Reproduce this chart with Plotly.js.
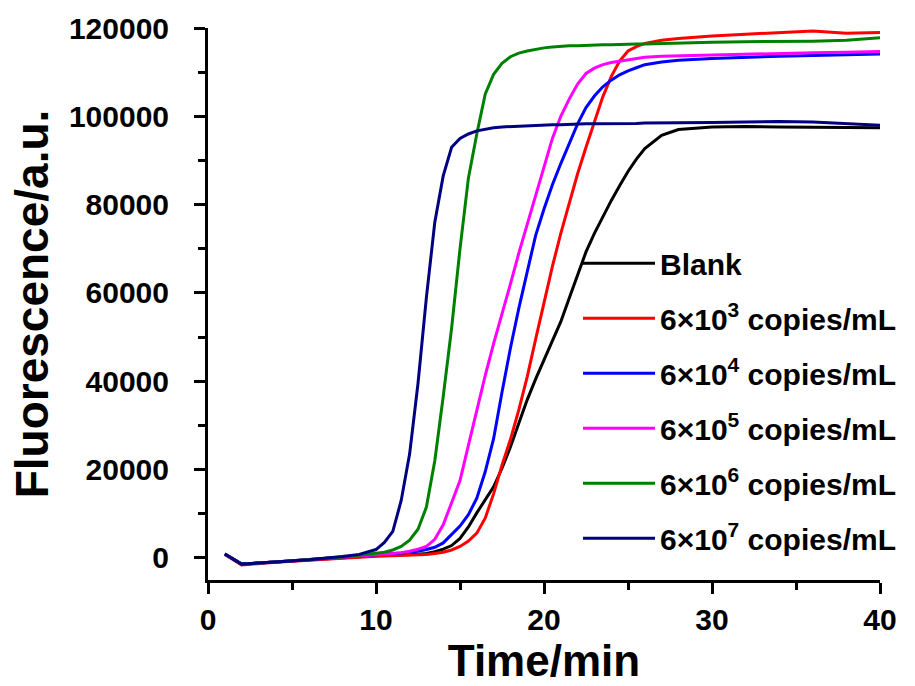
<!DOCTYPE html>
<html>
<head>
<meta charset="utf-8">
<script src="https://cdn.plot.ly/plotly-3.0.1.min.js"></script>
<style>html,body{margin:0;padding:0;background:#fff;}#chart{width:915px;height:686px;}</style>
</head>
<body>
<div id="chart"></div>
<script>
const time = [1,2,4,6,8,9,10,10.5,11,11.5,12,12.5,13,13.5,14,14.5,15,15.5,16,16.5,17,17.5,18,18.5,19,19.5,20,20.5,21,21.5,22,22.5,23,23.5,24,24.5,25,25.5,26,27,28,30,32,34,36,38,40];

const blank = [900,-1400,-900,-400,100,400,
 500,550,600,650,700,850,1000,1400,2000,2800,4400,7000,10200,13000,16100,20300,25100,30500,35800,40500,44800,49000,53500,58800,64300,69300,73500,77300,80900,84300,87500,90300,92700,
 95700,97000,97600,97700,97600,97500,97500,97400];

const c6e3 = [800,-1600,-1000,-500,0,300,
 400,450,500,550,600,700,800,1000,1300,1800,2600,3800,5600,9000,14500,21000,26800,33500,41000,49500,58000,66000,73500,80500,87000,93000,98800,104400,109000,112500,114800,115800,116500,
 117200,117600,118200,118600,119000,119300,118800,119000];

const c6e4 = [900,-1400,-900,-400,200,500,
 700,800,950,1100,1300,1500,1900,2400,3400,5200,7200,9800,13500,19500,27000,37500,47500,56500,65000,73000,79000,84500,89300,94000,98300,102000,104600,106700,108200,109400,110300,111000,111700,
 112300,112700,113100,113400,113600,113800,114000,114100];

const c6e5 = [900,-1400,-900,-400,200,500,
 700,850,1000,1200,1500,2000,2600,4200,7500,12500,17500,25500,33500,41300,48500,55000,62000,69000,75500,82000,89000,95000,100000,103900,107300,109700,110900,111700,112200,112500,112800,113100,113400,
 113600,113700,113900,114100,114300,114400,114500,114700];

const c6e6 = [900,-1400,-900,-400,200,600,
 1000,1300,1800,2600,4000,6500,11500,22000,36500,52000,70000,86000,96000,105000,109500,112000,113500,114300,114800,115200,115500,115700,115900,116000,116000,116100,116100,116200,116200,116300,116300,116400,116400,
 116500,116700,116800,116900,116900,117000,117200,117800];

const c6e7 = [900,-1400,-900,-400,300,800,
 1900,3500,6000,13000,23500,39500,59000,76000,86500,93000,95000,96000,96700,97100,97400,97600,97700,97800,97900,98000,98000,98100,98100,98200,98200,98300,98300,98300,98400,98400,98400,98400,98500,
 98500,98500,98600,98700,98800,98700,98300,98000];

const seriesNames = ["Blank","6×10<sup>3</sup> copies/mL","6×10<sup>4</sup> copies/mL","6×10<sup>5</sup> copies/mL","6×10<sup>6</sup> copies/mL","6×10<sup>7</sup> copies/mL"];
const seriesValues = [blank, c6e3, c6e4, c6e5, c6e6, c6e7];
const seriesColors = ["#000000","#FF0000","#0000FF","#FF00FF","#008000","#000080"];

const xTickVals = [0,10,20,30,40];
const xMinorVals = [5,15,25,35];
const yTickVals = [0,20000,40000,60000,80000,100000,120000];
const yTickText = ['0','20000','40000','60000','80000','100000','120000'];
const yMinorVals = [10000,30000,50000,70000,90000,110000];

const FONT = 'Arial, "Liberation Sans", sans-serif';

const traces = seriesValues.map((v, i) => ({
  type: 'scatter', mode: 'lines', x: time, y: v, name: seriesNames[i],
  legendgroup: 'g' + i,
  line: {color: seriesColors[i], width: 3},
  hoverinfo: 'skip'
}));

const axisCommon = {
  showline: true, linecolor: '#000', linewidth: 3, mirror: false,
  showgrid: false, zeroline: false,
  ticks: 'outside', ticklen: 11, tickwidth: 3, tickcolor: '#000',
  tickfont: {family: FONT, size: 30, color: '#000', weight: 700},
};

const layout = {
  width: 915, height: 686,
  margin: {l: 208, r: 35, t: 28, b: 106, autoexpand: false},
  paper_bgcolor: '#fff', plot_bgcolor: '#fff',
  showlegend: true,
  xaxis: Object.assign({}, axisCommon, {
    range: [0, 40], tickvals: xTickVals,
    minor: {tickvals: xMinorVals, ticklen: 7, tickwidth: 3, tickcolor: '#000', ticks: 'outside'},
    ticklabelstandoff: 0,
    title: {text: 'Time/min', font: {family: FONT, size: 44, color: '#000', weight: 700}, standoff: 10}
  }),
  yaxis: Object.assign({}, axisCommon, {
    range: [-5000, 120000], tickvals: yTickVals, ticktext: yTickText,
    minor: {tickvals: yMinorVals, ticklen: 7, tickwidth: 3, tickcolor: '#000', ticks: 'outside'},
    ticklabelstandoff: 19,
    title: {text: 'Fluorescence/a.u.', font: {family: FONT, size: 46, color: '#000', weight: 700}, standoff: 6}
  }),
  legend: {
    x: 0.5506, y: 0.621, xanchor: 'left', yanchor: 'top',
    bgcolor: 'rgba(0,0,0,0)', borderwidth: 0,
    font: {family: FONT, size: 30, color: '#000', weight: 700},
    itemwidth: 72, tracegroupgap: 13,
    traceorder: 'grouped'
  }
};

Plotly.newPlot('chart', traces, layout, {staticPlot: true, displayModeBar: false});
</script>
</body>
</html>
